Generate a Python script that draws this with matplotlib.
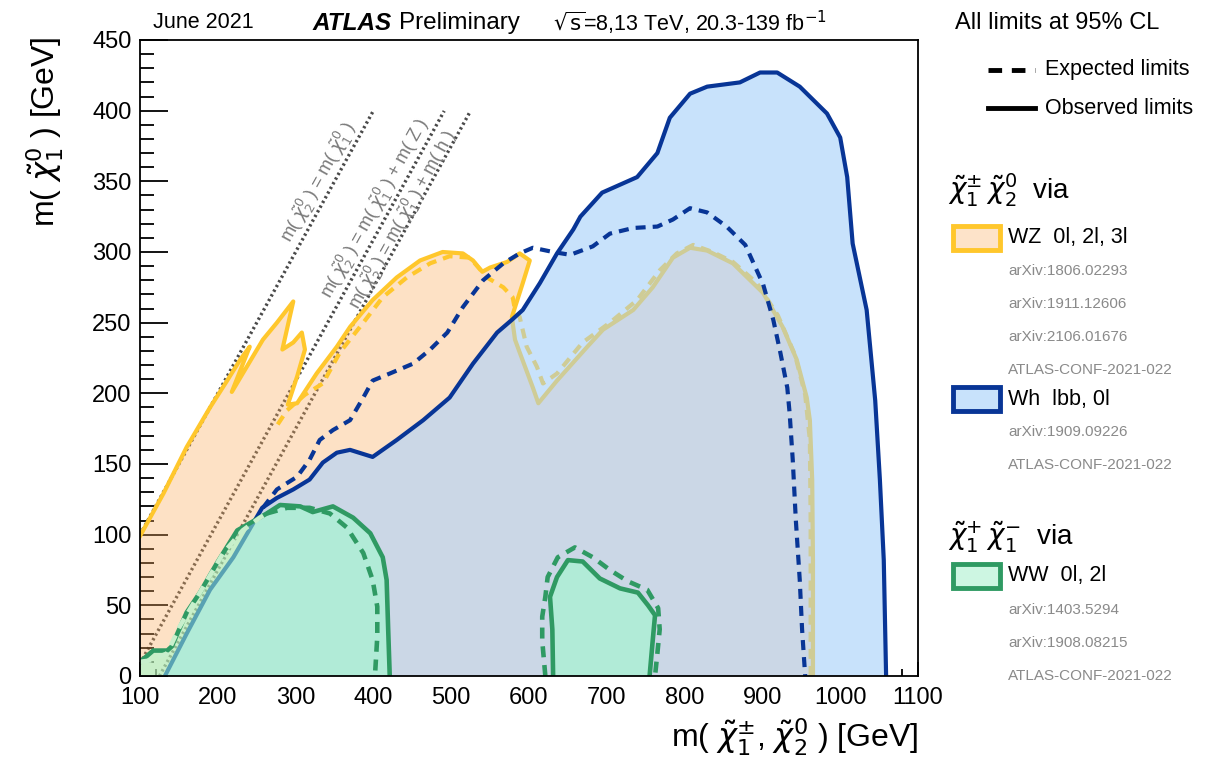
"""
Electroweakino summary: chi1+- chi2^0 / chi1+ chi1- exclusion contours.
"""

import numpy as np
import matplotlib
matplotlib.use('Agg')  # Non-interactive backend
import matplotlib.pyplot as plt
from matplotlib.patches import Polygon, Rectangle
from matplotlib.lines import Line2D
from matplotlib.ticker import MultipleLocator

plt.rcParams['font.family'] = ['Liberation Sans', 'DejaVu Sans']
plt.rcParams['mathtext.fontset'] = 'dejavusans'

# WZ 0l, 2l, 3l  (GeV)
wz_obs_x = [100, 130, 160, 190, 212, 229, 241, 218, 258, 276, 297, 283, 297, 308, 312, 302, 290,
            302, 327, 353, 370, 399, 430, 460, 489, 515, 528, 540, 550, 572, 588, 601, 592, 585,
            578, 582, 588, 605, 612, 636, 675, 695, 734, 759, 785, 807, 829, 862, 901, 926, 944,
            957, 961, 964, 965, 965]
wz_obs_y = [99, 129, 162, 190, 209, 224, 233, 201, 238, 250, 265, 231, 236, 243, 231, 212, 192,
            193, 214, 233, 247, 266, 282, 294, 300, 299, 294, 286, 289, 293, 299, 294, 278, 266,
            254, 238, 229, 204, 193, 209, 233, 245, 259, 275, 296, 303, 301, 292, 271, 247, 224,
            197, 181, 139, 82, 0]
wz_exp_x = [277, 289, 312, 335, 357, 387, 412, 443, 473, 498, 524, 546, 567, 579, 582, 588, 597,
            610, 618, 636, 669, 704, 739, 768, 790, 811, 836, 862, 893, 920, 942, 955, 961, 962, 962]
wz_exp_y = [178, 188, 199, 207, 229, 250, 268, 282, 292, 297, 296, 282, 275, 268, 259, 254, 233,
            219, 207, 214, 236, 250, 266, 287, 299, 305, 300, 293, 278, 255, 227, 199, 167, 110, 0]

# Wh lbb, 0l
wh_obs_x = [132, 160, 190, 220, 257, 276, 297, 318, 335, 353, 370, 399, 430, 464, 498, 528, 559,
            578, 592, 614, 636, 657, 666, 694, 739, 765, 781, 807, 829, 871, 897, 919, 948, 983,
            1000, 1009, 1016, 1034, 1045, 1051, 1056, 1059]
wh_obs_y = [0, 30, 61, 84, 119, 126, 132, 139, 151, 158, 160, 155, 167, 181, 197, 221, 243, 252,
            259, 278, 299, 316, 325, 342, 353, 370, 395, 412, 417, 420, 427, 427, 417, 398, 381,
            353, 306, 259, 195, 139, 82, 0]
wh_exp_x = [258, 276, 302, 318, 331, 348, 370, 387, 399, 421, 451, 473, 495, 515, 541, 567, 588,
            605, 631, 653, 682, 704, 734, 765, 785, 807, 829, 854, 878, 901, 914, 923, 932, 935,
            939, 943, 948, 951, 955]
wh_exp_y = [119, 132, 141, 153, 167, 174, 181, 197, 209, 214, 221, 231, 243, 261, 280, 292, 299,
            303, 300, 298, 304, 313, 317, 318, 323, 331, 328, 318, 305, 277, 252, 229, 204, 186,
            153, 110, 68, 33, 0]

# WW 0l, 2l  (low-mass and high-mass islands)
ww_obs1_x = [100, 117, 135, 141, 148, 160, 177, 199, 225, 263, 280, 306, 322, 348, 374, 396, 412,
             417, 419, 421]
ww_obs1_y = [10, 18, 18, 21, 30, 45, 59, 80, 103, 115, 121, 120, 116, 120, 112, 101, 84, 68, 33, 0]
ww_exp1_x = [100, 113, 135, 151, 177, 207, 232, 254, 263, 289, 318, 344, 366, 387, 399, 405, 405, 402]
ww_exp1_y = [10, 11, 16, 35, 59, 87, 103, 112, 115, 119, 119, 115, 105, 87, 68, 49, 28, 0]
ww_obs2_x = [631, 630, 627, 636, 650, 669, 691, 717, 740, 753, 762, 759, 755]
ww_obs2_y = [0, 33, 56, 70, 82, 81, 69, 62, 59, 50, 43, 25, 0]
ww_exp2_x = [621, 617, 617, 621, 624, 637, 659, 682, 704, 727, 752, 766, 768, 765, 762]
ww_exp2_y = [0, 25, 42, 56, 70, 84, 91, 84, 75, 67, 61, 48, 33, 16, 0]

# kinematic limit lines: m(chi2) = m(chi1) + offset
kin_offsets = [0, 91.2, 125]
kin_xmax = [400, 491, 525]
kin_labels = [r'm( $\tilde{\chi}_{2}^{0}$ ) = m( $\tilde{\chi}_{1}^{0}$ )',
              r'm( $\tilde{\chi}_{2}^{0}$ ) = m( $\tilde{\chi}_{1}^{0}$ ) + m( Z )',
              r'm( $\tilde{\chi}_{2}^{0}$ ) = m( $\tilde{\chi}_{1}^{0}$ ) + m( h )']
kin_label_pos = [(329, 349), (402, 331), (438, 323)]

wz_refs = ['arXiv:1806.02293', 'arXiv:1911.12606', 'arXiv:2106.01676', 'ATLAS-CONF-2021-022']
wh_refs = ['arXiv:1909.09226', 'ATLAS-CONF-2021-022']
ww_refs = ['arXiv:1403.5294', 'arXiv:1908.08215', 'ATLAS-CONF-2021-022']

# colours
c_wz_fill, c_wz_line, c_wz_under = '#fde3c9', '#ffc72c', '#cfcc96'
c_wh_fill, c_wh_line, c_overlap = '#c8e2fb', '#083596', '#cbd7e6'
c_ww_fill, c_ww_line = '#9dfccb', '#2f9a63'

W, H = 1226, 759


def fx(px):
    return px / W


def fy(py):
    return 1 - py / H


def verts(x, y, extra=()):
    return list(zip(x, y)) + list(extra)


fig = plt.figure(figsize=(W / 100, H / 100), dpi=100)
ax = fig.add_axes([fx(140), fy(676), (918 - 140) / W, (676 - 40) / H])
ax.set_xlim(100, 1100)
ax.set_ylim(0, 450)

dash = (0, (2.4, 1.7))

# kinematic lines (under the fills)
for off, xmax, label, (tx, ty) in zip(kin_offsets, kin_xmax, kin_labels, kin_label_pos):
    x0 = max(100, off)
    ax.plot([x0, xmax], [x0 - off, xmax - off], color='#4a4a4a', lw=2.4,
            linestyle=(0, (0.7, 0.9)), zorder=1)
    ax.text(tx, ty, label, rotation=61, ha='center', va='center', fontsize=13,
            color='#7a7a7a', zorder=1)

# WZ
wz_patch = Polygon(verts(wz_obs_x, wz_obs_y, [(100, 0)]), closed=True,
                   facecolor=(250 / 255, 170 / 255, 90 / 255), alpha=0.35,
                   edgecolor='none', zorder=2)
ax.add_patch(wz_patch)
ax.plot(wz_obs_x, wz_obs_y, color=c_wz_line, lw=3, zorder=2.5, solid_joinstyle='round')
ax.plot(wz_exp_x, wz_exp_y, color=c_wz_line, lw=3, linestyle=dash, zorder=2.5)

# Wh
wh_patch = Polygon(verts(wh_obs_x, wh_obs_y), closed=True, facecolor=c_wh_fill,
                   edgecolor='none', zorder=3)
ax.add_patch(wh_patch)
ov = Polygon(verts(wz_obs_x, wz_obs_y, [(100, 0)]), closed=True, facecolor=c_overlap,
             edgecolor='none', zorder=3.1)
ax.add_patch(ov)
ov.set_clip_path(wh_patch)
for xs, ys, ls in [(wz_obs_x, wz_obs_y, '-'), (wz_exp_x, wz_exp_y, dash)]:
    ln, = ax.plot(xs, ys, color=c_wz_under, lw=3, linestyle=ls, zorder=3.2)
    ln.set_clip_path(wh_patch)
ax.plot(wh_obs_x, wh_obs_y, color=c_wh_line, lw=3, zorder=5, solid_joinstyle='round')
ax.plot(wh_exp_x, wh_exp_y, color=c_wh_line, lw=3, linestyle=dash, zorder=5)

# WW
for xs, ys, extra in [(ww_obs1_x, ww_obs1_y, [(100, 0)]), (ww_obs2_x, ww_obs2_y, [])]:
    ax.add_patch(Polygon(verts(xs, ys, extra), closed=True, facecolor=c_ww_fill,
                         alpha=0.55, edgecolor='none', zorder=6))
    ax.plot(xs, ys, color=c_ww_line, lw=3.3, zorder=7, solid_joinstyle='round')
ax.plot(ww_exp1_x[:9], ww_exp1_y[:9], color='#c8efcc', lw=3.3, linestyle=dash, zorder=7)
ax.plot(ww_exp1_x[8:], ww_exp1_y[8:], color=c_ww_line, lw=3.3, linestyle=dash, zorder=7)
ax.plot(ww_exp2_x, ww_exp2_y, color=c_ww_line, lw=3.3, linestyle=dash, zorder=7)

# axes styling
for sp in ax.spines.values():
    sp.set_linewidth(1.3)
    sp.set_zorder(10)
ax.xaxis.set_major_locator(MultipleLocator(100))
ax.xaxis.set_minor_locator(MultipleLocator(20))
ax.yaxis.set_major_locator(MultipleLocator(50))
ax.yaxis.set_minor_locator(MultipleLocator(10))
ax.tick_params(axis='both', which='both', direction='in', labelsize=17, width=1.3, zorder=10)
ax.tick_params(axis='x', which='major', length=10, pad=8)
ax.tick_params(axis='x', which='minor', length=5)
ax.tick_params(axis='y', which='major', length=20, pad=6)
ax.tick_params(axis='y', which='minor', length=10)
for t in ax.get_xticklines() + ax.get_yticklines():
    t.set_zorder(10)

fig.text(fx(918), fy(737), r'm( $\tilde{\chi}_{1}^{\pm}$, $\tilde{\chi}_{2}^{0}$ ) [GeV]',
         ha='right', va='center', fontsize=23)
fig.text(fx(45), fy(36), r'm( $\tilde{\chi}_{1}^{0}$ ) [GeV]', rotation=90,
         ha='center', va='top', fontsize=23)

# header
fig.text(fx(153), fy(23), 'June 2021', ha='left', va='center', fontsize=15.5)
fig.text(fx(312), fy(23), 'ATLAS', ha='left', va='center', fontsize=17.5,
         fontweight='bold', fontstyle='italic')
fig.text(fx(399), fy(23), 'Preliminary', ha='left', va='center', fontsize=17.5)
fig.text(fx(553), fy(23), r'$\sqrt{\mathrm{s}}$=8,13 TeV, 20.3-139 fb$^{-1}$', ha='left',
         va='center', fontsize=15.5)

# legend
fig.text(fx(955), fy(23), 'All limits at 95% CL', ha='left', va='center', fontsize=17)
fig.add_artist(Line2D([fx(988), fx(1035)], [fy(70), fy(70)], color='black', lw=3.5,
                      linestyle=(0, (2.8, 2.0)), transform=fig.transFigure))
fig.text(fx(1045), fy(70), 'Expected limits', ha='left', va='center', fontsize=15.5)
fig.add_artist(Line2D([fx(988), fx(1035)], [fy(108), fy(108)], color='black', lw=3.5,
                      transform=fig.transFigure))
fig.text(fx(1045), fy(108), 'Observed limits', ha='left', va='center', fontsize=15.5)


def add_refs(refs, y0):
    for i, r in enumerate(refs):
        fig.text(fx(1008), fy(y0 + 33 * (i + 1)), r, ha='left', va='center',
                 fontsize=11, color='#8a8a8a')


def add_box(box_y, fill, edge):
    fig.add_artist(Rectangle((fx(953), fy(box_y + 12)), (1000 - 953) / W, 24 / H,
                             facecolor=fill, edgecolor=edge, lw=3.5,
                             transform=fig.transFigure))


fig.text(fx(948), fy(190), r'$\tilde{\chi}_{1}^{\pm}\,\tilde{\chi}_{2}^{0}$  via', ha='left',
         va='center', fontsize=20)
add_box(238, c_wz_fill, c_wz_line)
fig.text(fx(1008), fy(238), 'WZ  0l, 2l, 3l', ha='left', va='center', fontsize=15.5)
add_refs(wz_refs, 238)

add_box(399, c_wh_fill, c_wh_line)
fig.text(fx(1008), fy(399), 'Wh  lbb, 0l', ha='left', va='center', fontsize=15.5)
add_refs(wh_refs, 399)

fig.text(fx(948), fy(537), r'$\tilde{\chi}_{1}^{+}\,\tilde{\chi}_{1}^{-}$  via', ha='left',
         va='center', fontsize=20)
add_box(576, '#cdf6e2', c_ww_line)
fig.text(fx(1008), fy(576), 'WW  0l, 2l', ha='left', va='center', fontsize=15.5)
add_refs(ww_refs, 577)

fig.savefig('out.png', dpi=100)
plt.close(fig)
